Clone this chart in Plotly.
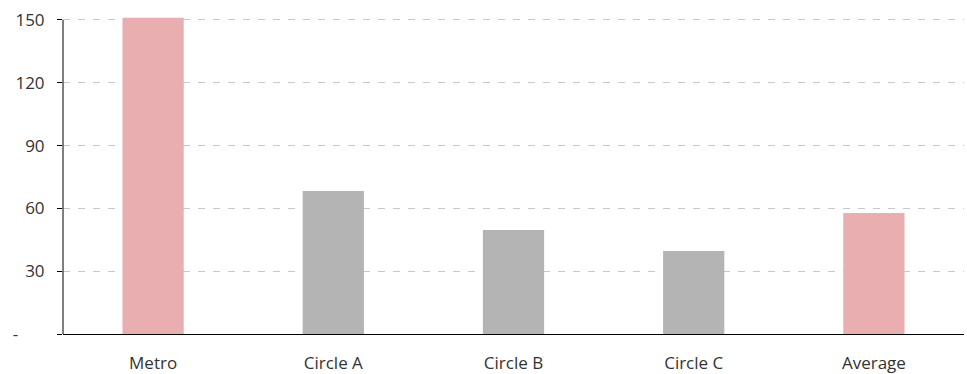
import plotly.graph_objects as go

# Values per region
categories = ["Metro", "Circle A", "Circle B", "Circle C", "Average"]
values = [151, 68.3, 49.7, 39.7, 57.8]
bar_colors = ["#e8aeb0", "#b4b4b4", "#b4b4b4", "#b4b4b4", "#e8aeb0"]

tick_vals = [0, 30, 60, 90, 120, 150]
tick_text = ["-" + "\u00a0" * 6, "30", "60", "90", "120", "150"]

FONT = "Open Sans, Noto Sans, sans-serif"

fig = go.Figure(
    go.Bar(
        x=categories,
        y=values,
        marker=dict(color=bar_colors, line=dict(width=0)),
        width=0.34,
        hoverinfo="x+y",
    )
)

fig.update_layout(
    width=967,
    height=374,
    margin=dict(l=63, r=3, t=17, b=40),
    paper_bgcolor="white",
    plot_bgcolor="white",
    showlegend=False,
    font=dict(family=FONT, size=17, color="#333333"),
)

fig.update_xaxes(
    automargin=False,
    showline=True,
    linecolor="black",
    linewidth=1,
    ticks="",
    showgrid=False,
    ticklabelstandoff=14,
    tickfont=dict(size=17, color="#333333"),
)

fig.update_yaxes(
    automargin=False,
    range=[0, 151.4],
    tickvals=tick_vals,
    ticktext=tick_text,
    showline=False,
    ticks="outside",
    ticklen=5,
    tickcolor="black",
    tickwidth=1,
    ticklabelstandoff=9,
    showgrid=True,
    gridcolor="#c8c8c8",
    griddash="7px,8px",
    gridwidth=1,
    zeroline=False,
    tickfont=dict(size=17, color="#333333"),
)

# vertical axis line from 0 up to the top tick
fig.add_shape(
    type="line",
    xref="paper",
    yref="y",
    x0=0,
    x1=0,
    y0=0,
    y1=150,
    line=dict(color="black", width=1),
    layer="above",
)

fig.write_html("out.html")
